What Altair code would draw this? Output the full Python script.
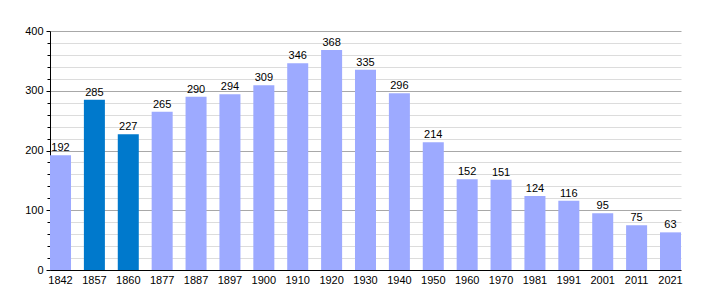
import altair as alt
import pandas as pd

years = ["1842", "1857", "1860", "1877", "1887", "1897", "1900", "1910", "1920", "1930",
         "1940", "1950", "1960", "1970", "1981", "1991", "2001", "2011", "2021"]
population = [192, 285, 227, 265, 290, 294, 309, 346, 368, 335,
              296, 214, 152, 151, 124, 116, 95, 75, 63]
highlight = ["1857", "1860"]

df = pd.DataFrame({"year": years, "pop": population})
df["kind"] = ["dark" if y in highlight else "light" for y in years]

FONT = "Liberation Sans"
ticks = list(range(0, 401, 20))

base = alt.Chart(df).encode(
    x=alt.X("year:N", sort=years, title=None,
            scale=alt.Scale(paddingInner=0.38, paddingOuter=0),
            axis=alt.Axis(labelAngle=0, ticks=False, domainColor="black",
                          labelFont=FONT, labelFontSize=11, labelColor="black",
                          labelPadding=4, grid=False)),
    y=alt.Y("pop:Q", title=None,
            scale=alt.Scale(domain=[0, 400], nice=False),
            axis=alt.Axis(values=ticks, domainColor="black",
                          labelExpr="datum.value % 100 === 0 ? datum.label : ''",
                          labelFont=FONT, labelFontSize=11, labelColor="black",
                          tickColor="black",
                          tickSize={"condition": {"test": "datum.value % 100 === 0", "value": 4}, "value": 3},
                          gridColor={"condition": {"test": "datum.value % 100 === 0", "value": "#a8a8a8"}, "value": "#dcdcdc"},
                          gridOpacity=1, labelPadding=3)),
)

bars = base.mark_bar().encode(
    color=alt.Color("kind:N", scale=alt.Scale(domain=["light", "dark"], range=["#9daaff", "#0079cc"]), legend=None),
)

labels = base.mark_text(dy=-7, font=FONT, fontSize=11, color="black").encode(
    text=alt.Text("pop:Q"),
)

chart = (bars + labels).properties(
    width=631, height=239,
    autosize=alt.AutoSizeParams(type="none"),
    padding={"left": 50, "top": 31, "right": 29, "bottom": 30},
).configure_view(stroke=None)

chart.save("out.html", embed_options={"renderer": "svg", "actions": False})
